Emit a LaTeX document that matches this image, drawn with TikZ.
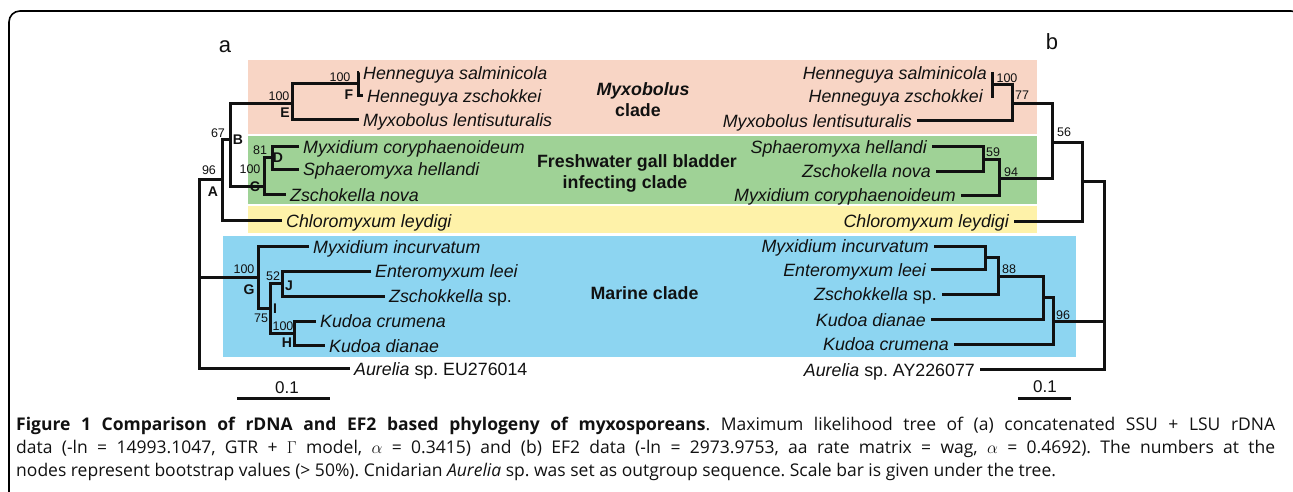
\documentclass[tikz,border=0pt]{standalone}
\usepackage{fontspec}
\setmainfont{Liberation Sans}
\newfontfamily\capfont{Open Sans}
\definecolor{myxo}{HTML}{F8D5C5}
\definecolor{fresh}{HTML}{9FD296}
\definecolor{chlor}{HTML}{FEF2A9}
\definecolor{marine}{HTML}{8DD5F1}
\definecolor{ink}{HTML}{111111}
\begin{document}
\frenchspacing
\begin{tikzpicture}[x=1bp,y=-1bp,
  br/.style={line width=3bp, line join=miter, draw=ink},
  taxl/.style={anchor=west, inner xsep=4bp, inner ysep=0pt, text height=12.7bp, text depth=0pt, font=\fontsize{17.8bp}{20bp}\selectfont\itshape, text=ink},
  taxr/.style={taxl, anchor=east, inner xsep=5bp},
  bs/.style={inner sep=0pt, font=\fontsize{12.5bp}{14bp}\selectfont, text=ink},
  nl/.style={inner sep=0pt, font=\fontsize{14bp}{16bp}\selectfont\bfseries, text=ink},
  clab/.style={anchor=base, inner sep=0pt, font=\fontsize{17.8bp}{20bp}\selectfont\bfseries, text=ink},
  panel/.style={anchor=base, inner sep=0pt, font=\fontsize{22bp}{24bp}\selectfont, text=ink},
  sbar/.style={line width=3bp, draw=ink},
  captext/.style={anchor=base west, inner sep=0pt, font=\capfont\fontsize{17.5bp}{20bp}\selectfont, text=ink}
]
\useasboundingbox (0,0) rectangle (1293,492);
\clip (0,0) rectangle (1293,492);
% frame
\draw[line width=1.6bp, rounded corners=11bp] (9,510) -- (9,11) -- (1302,11) -- (1302,510);
% clade bands
\fill[myxo]   (248,60)  rectangle (1037,134);
\fill[fresh]  (248,136) rectangle (1037,204);
\fill[chlor]  (248,206) rectangle (1037,233);
\fill[marine] (223,236) rectangle (1076,357);

% panel letters
\node[panel] (pa) at (225,52.7) {a};
\node[panel] (pb) at (1052,50) {b};

% clade labels
\node[clab] (c1a) at (643,95.8) {\itshape Myxobolus};
\node[clab] (c1b) at (638,116.7) {clade};
\node[clab] (c2a) at (637,168) {Freshwater gall bladder};
\node[clab] (c2b) at (625,189) {infecting clade};
\node[clab] (c3)  at (644.5,300) {Marine clade};

% ---------- tree a ----------
\node[taxl] (hs) at (359,73)    {Henneguya salminicola};
\node[taxl] (hz) at (363,96)    {Henneguya zschokkei};
\node[taxl] (ml) at (359,120)   {Myxobolus lentisuturalis};
\node[taxl] (mc) at (299,147)   {Myxidium coryphaenoideum};
\node[taxl] (sh) at (299,169.5) {Sphaeromyxa hellandi};
\node[taxl] (zn) at (286,195)   {Zschokella nova};
\node[taxl] (cl) at (282,221)   {Chloromyxum leydigi};
\node[taxl] (mi) at (309,247)   {Myxidium incurvatum};
\node[taxl] (el) at (371,271.5) {Enteromyxum leei};
\node[taxl] (zs) at (385,296.5) {Zschokkella\upshape{} sp.};
\node[taxl] (kc) at (316,321.5) {Kudoa crumena};
\node[taxl] (kd) at (325,346)   {Kudoa dianae};
\node[taxl] (au) at (350,369)   {Aurelia\upshape{} sp. EU276014};

\coordinate (aF) at (358,84);
\coordinate (aE) at (292,104);
\coordinate (aB) at (230,140);
\coordinate (aC) at (264,187);
\coordinate (aD) at (272,158);
\coordinate (a67) at (222,180);
\coordinate (aA) at (199,180);
\coordinate (aG) at (258,278);
\coordinate (aI) at (270,309);
\coordinate (aJ) at (282,284);
\coordinate (aH) at (294,334);

\draw[br] (hs.west) -| (aF) |- (hz.west);
\draw[br] (aF) -| (aE) |- (ml.west);
\draw[br] (aE) -| (aB) |- (aC);
\draw[br] (aD) -| (aC) |- (zn.west);
\draw[br] (mc.west) -| (aD) |- (sh.west);
\draw[br] (aB) -| (a67) |- (cl.west);
\draw[br] (a67) -- (aA) |- (au.west);
\draw[br] (aA |- aG) -- (aG);
\draw[br] (mi.west) -| (aG) |- (aI);
\draw[br] (aJ) -| (aI) |- (aH);
\draw[br] (el.west) -| (aJ) |- (zs.west);
\draw[br] (kc.west) -| (aH) |- (kd.west);

\node[bs] (sF) at (340,77) {100};
\node[nl] (lF) at (349,95) {F};
\node[bs] (sE) at (279,96) {100};
\node[nl] (lE) at (285,113) {E};
\node[bs] (s67) at (218,133) {67};
\node[nl] (lB) at (238,140) {B};
\node[bs] (s96) at (209,170) {96};
\node[nl] (lA) at (213,192) {A};
\node[bs] (s81) at (260,150) {81};
\node[nl] (lD) at (278,158) {D};
\node[bs] (sC) at (250,169) {100};
\node[nl] (lC) at (255,187) {C};
\node[bs] (sG) at (244,269) {100};
\node[nl] (lG) at (249,290) {G};
\node[bs] (s52) at (273,276) {52};
\node[nl] (lJ) at (289,286) {J};
\node[nl] (lI) at (275,309) {I};
\node[bs] (s75) at (261,318) {75};
\node[bs] (sH) at (283,326) {100};
\node[nl] (lH) at (287,343) {H};

% scale bar a
\node[bs, font=\fontsize{17bp}{19bp}\selectfont] (ta) at (287,388) {0.1};
\coordinate (sa1) at (237,399);
\coordinate (sa2) at (330,399);
\draw[sbar] (sa1) -- (sa2);

% ---------- tree b ----------
\node[taxr] (hs2) at (992,73)    {Henneguya salminicola};
\node[taxr] (hz2) at (988,96)    {Henneguya zschokkei};
\node[taxr] (ml2) at (917,121)   {Myxobolus lentisuturalis};
\node[taxr] (sh2) at (932,147)   {Sphaeromyxa hellandi};
\node[taxr] (zn2) at (936,171.5) {Zschokella nova};
\node[taxr] (mc2) at (961,195.5) {Myxidium coryphaenoideum};
\node[taxr] (cl2) at (1014,221.5){Chloromyxum leydigi};
\node[taxr] (mi2) at (934,246.5) {Myxidium incurvatum};
\node[taxr] (el2) at (931,270)   {Enteromyxum leei};
\node[taxr] (zs2) at (942,294.5) {Zschokkella\upshape{} sp.};
\node[taxr] (kd2) at (931,320)   {Kudoa dianae};
\node[taxr] (kc2) at (954,344.5) {Kudoa crumena};
\node[taxr] (au2) at (980,370)   {Aurelia\upshape{} sp. AY226077};

\coordinate (bH) at (992,85);
\coordinate (b77) at (1012,104);
\coordinate (b59) at (983,160);
\coordinate (b94) at (999,179);
\coordinate (b56) at (1052,143);
\coordinate (bCl) at (1082,182);
\coordinate (bR) at (1104,322);
\coordinate (bM) at (985,258);
\coordinate (b88) at (998,277);
\coordinate (bKd) at (1043,298);
\coordinate (b96) at (1053,322);

\draw[br] ([yshift=1bp]bH |- hs2.east) -- ([yshift=-2bp]bH |- hz2.east);
\draw[br] (bH) -| (b77) |- (ml2.east);
\draw[br] (b77) -| (b56) |- (b94);
\draw[br] (b59) -| (b94) |- (mc2.east);
\draw[br] (sh2.east) -| (b59) |- (zn2.east);
\draw[br] (b56) -| (bCl) |- (cl2.east);
\draw[br] (bCl) -| (bR) |- (au2.east);
\draw[br] (bR) -- (b96);
\draw[br] (bKd) -| (b96) |- (kc2.east);
\draw[br] (b88) -| (bKd) |- (kd2.east);
\draw[br] (bM) -| (b88) |- (zs2.east);
\draw[br] (mi2.east) -| (bM) |- (el2.east);

\node[bs] (t100b) at (1007,78) {100};
\node[bs] (t77) at (1022,95) {77};
\node[bs] (t56) at (1064,132) {56};
\node[bs] (t59) at (993,152) {59};
\node[bs] (t94) at (1011,172) {94};
\node[bs] (t88) at (1009,269) {88};
\node[bs] (t96) at (1063,315) {96};

% scale bar b
\node[bs, font=\fontsize{17bp}{19bp}\selectfont] (tb) at (1045,387) {0.1};
\coordinate (sb1) at (1018,399);
\coordinate (sb2) at (1071,399);
\draw[sbar] (sb1) -- (sb2);

% ---------- caption ----------
\node[captext] (cap1) at (16,430) {\makebox[1259bp][s]{\textbf{Figure 1 Comparison of rDNA and EF2 based phylogeny of myxosporeans}. Maximum likelihood tree of (a) concatenated SSU + LSU rDNA}};
\node[captext] (cap2) at (16,453) {\makebox[1259bp][s]{data (-ln = 14993.1047, GTR + $\Gamma$ model, $\alpha$ = 0.3415) and (b) EF2 data (-ln = 2973.9753, aa rate matrix = wag, $\alpha$ = 0.4692). The numbers at the}};
\node[captext] (cap3) at (16,476) {nodes represent bootstrap values (> 50\%). Cnidarian \textit{Aurelia} sp. was set as outgroup sequence. Scale bar is given under the tree.};
\end{tikzpicture}
\end{document}
